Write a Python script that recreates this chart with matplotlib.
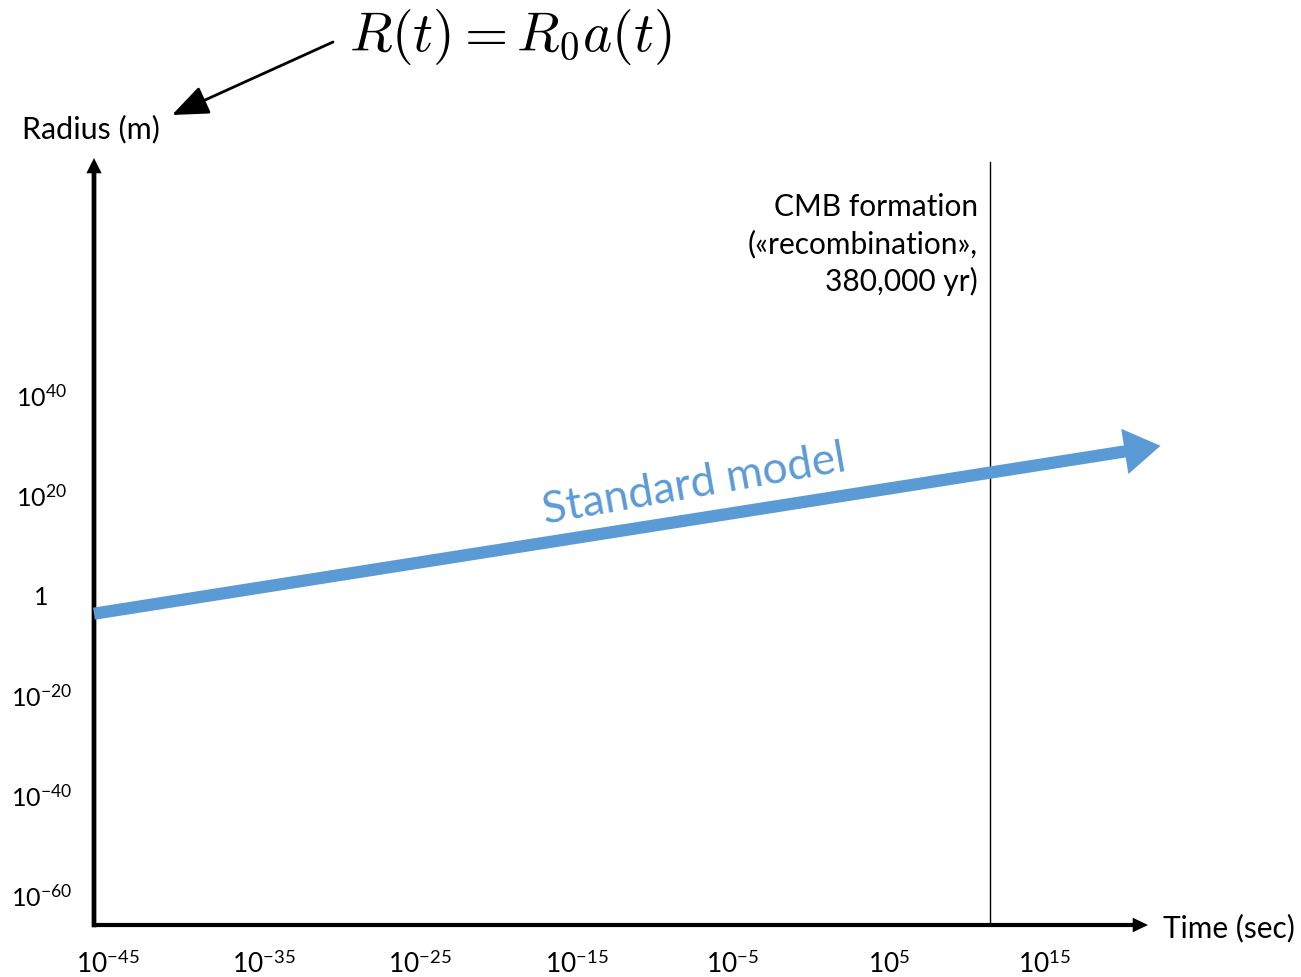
import matplotlib.pyplot as plt
from matplotlib.patches import FancyArrowPatch

plt.rcParams['font.family'] = ['Lato', 'DejaVu Sans']
plt.rcParams['mathtext.fontset'] = 'custom'
plt.rcParams['mathtext.rm'] = 'Lato'
plt.rcParams['mathtext.it'] = 'Lato:italic'
plt.rcParams['mathtext.bf'] = 'Lato:bold'

# exponents (log10) used for the axes
time_ticks = [-45, -35, -25, -15, -5, 5, 15]
radius_ticks = [-60, -40, -20, 0, 20, 40]
time_labels = ['$10^{%d}$' % e for e in time_ticks]
radius_labels = ['$10^{%d}$' % e if e != 0 else '1' for e in radius_ticks]

# standard model trajectory, log10(t) vs log10(R)
std_t = [-45.9, 22.4]
std_R = [-3.7, 29.9]

# CMB formation time (log10 of seconds, on this sketch's scale)
cmb_t = 11.5

blue = '#5B9BD5'
W, H = 1301, 977

fig = plt.figure(figsize=(W / 100, H / 100), dpi=100)
ax = fig.add_axes([94 / W, (H - 925) / H, (1148 - 94) / W, (925 - 158) / H])
ax.set_xlim(-45.9, 21.6)
ax.set_ylim(-66, 87.5)
for s in ax.spines.values():
    s.set_visible(False)

ax.set_xticks(time_ticks)
ax.set_xticklabels(time_labels, fontsize=19)
ax.set_yticks(radius_ticks)
ax.set_yticklabels(radius_labels, fontsize=18, ha='center')
ax.tick_params(axis='x', length=0, pad=19)
ax.tick_params(axis='y', length=0, pad=38)

# axis arrows
ax.annotate('', xy=(1, 0), xytext=(0, 0), xycoords='axes fraction',
            arrowprops=dict(arrowstyle='simple,head_length=1.1,head_width=1.05,tail_width=0.3',
                            color='black', lw=0, shrinkA=0, shrinkB=0, mutation_scale=10))
ax.annotate('', xy=(0, 1), xytext=(0, -0.003), xycoords='axes fraction',
            arrowprops=dict(arrowstyle='simple,head_length=1.1,head_width=1.1,tail_width=0.34',
                            color='black', lw=0, shrinkA=0, shrinkB=0, mutation_scale=10))

# CMB line and label
ax.axvline(cmb_t, ymin=0, ymax=0.995, color='black', lw=1)
ax.text(cmb_t - 0.8, 0.955, 'CMB formation\n(«recombination»,\n380,000 yr)',
        transform=ax.get_xaxis_transform(), ha='right', va='top',
        fontsize=21.5, linespacing=1.38)

# standard model arrow
ax.annotate('', xy=(std_t[1], std_R[1]), xytext=(std_t[0], std_R[0]),
            annotation_clip=False,
            arrowprops=dict(arrowstyle='simple,head_length=2.6,head_width=3.3,tail_width=0.88',
                            color=blue, lw=0, shrinkA=0, shrinkB=0, mutation_scale=10))
ax.text(-17.0, 14.2, 'Standard model', color=blue, fontsize=32,
        rotation=10, rotation_mode='anchor', ha='left', va='baseline')

# axis titles
fig.text(22 / W, 1 - 129 / H, 'Radius (m)', fontsize=22, ha='left', va='center')
fig.text(1163 / W, 1 - 928 / H, 'Time (sec)', fontsize=21.5, ha='left', va='center')

# formula with pointer to the radius axis
fig.text(510 / W, 1 - 37 / H, r'$R(t) = R_0 a(t)$', fontsize=40,
         ha='center', va='center', math_fontfamily='cm')
fig.add_artist(FancyArrowPatch(
    (333 / W, 1 - 42 / H), (172 / W, 1 - 115 / H), transform=fig.transFigure,
    arrowstyle='-|>,head_length=1.6,head_width=0.65', mutation_scale=14,
    color='black', lw=2, shrinkA=0, shrinkB=0))

fig.savefig('out.png', dpi=100, facecolor='white')
